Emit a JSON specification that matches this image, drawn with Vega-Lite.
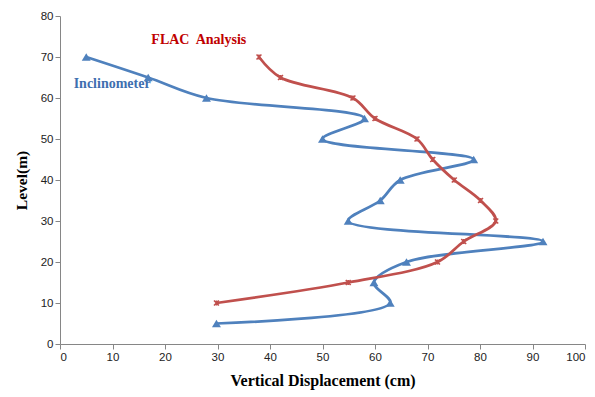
{
  "$schema": "https://vega.github.io/schema/vega-lite/v6.json",
  "width": 525,
  "height": 328,
  "autosize": {"type": "none"},
  "padding": {"left": 60, "top": 16, "right": 5, "bottom": 47},
  "background": "white",
  "config": {
    "view": {"stroke": null},
    "axis": {
      "grid": false,
      "domainColor": "#868686",
      "tickColor": "#868686",
      "tickSize": 5,
      "labelFont": "Liberation Sans",
      "labelFontSize": 11.5,
      "labelColor": "#222222",
      "titleFont": "Liberation Serif",
      "titleFontWeight": "bold",
      "titleColor": "#000000"
    }
  },
  "datasets": {
    "series": [
      {"series": "Inclinometer", "ord": 1, "disp": 5.0, "level": 70},
      {"series": "Inclinometer", "ord": 2, "disp": 16.8, "level": 65},
      {"series": "Inclinometer", "ord": 3, "disp": 27.9, "level": 60},
      {"series": "Inclinometer", "ord": 4, "disp": 58.0, "level": 55},
      {"series": "Inclinometer", "ord": 5, "disp": 50.0, "level": 50},
      {"series": "Inclinometer", "ord": 6, "disp": 78.8, "level": 45},
      {"series": "Inclinometer", "ord": 7, "disp": 64.8, "level": 40},
      {"series": "Inclinometer", "ord": 8, "disp": 61.0, "level": 35},
      {"series": "Inclinometer", "ord": 9, "disp": 54.9, "level": 30},
      {"series": "Inclinometer", "ord": 10, "disp": 92.0, "level": 25},
      {"series": "Inclinometer", "ord": 11, "disp": 66.0, "level": 20},
      {"series": "Inclinometer", "ord": 12, "disp": 59.8, "level": 15},
      {"series": "Inclinometer", "ord": 13, "disp": 62.9, "level": 10},
      {"series": "Inclinometer", "ord": 14, "disp": 29.8, "level": 5},
      {"series": "FLAC Analysis", "ord": 1, "disp": 37.9, "level": 70},
      {"series": "FLAC Analysis", "ord": 2, "disp": 42.0, "level": 65},
      {"series": "FLAC Analysis", "ord": 3, "disp": 55.8, "level": 60},
      {"series": "FLAC Analysis", "ord": 4, "disp": 60.0, "level": 55},
      {"series": "FLAC Analysis", "ord": 5, "disp": 68.0, "level": 50},
      {"series": "FLAC Analysis", "ord": 6, "disp": 71.0, "level": 45},
      {"series": "FLAC Analysis", "ord": 7, "disp": 75.1, "level": 40},
      {"series": "FLAC Analysis", "ord": 8, "disp": 80.1, "level": 35},
      {"series": "FLAC Analysis", "ord": 9, "disp": 83.0, "level": 30},
      {"series": "FLAC Analysis", "ord": 10, "disp": 76.9, "level": 25},
      {"series": "FLAC Analysis", "ord": 11, "disp": 71.9, "level": 20},
      {"series": "FLAC Analysis", "ord": 12, "disp": 54.9, "level": 15},
      {"series": "FLAC Analysis", "ord": 13, "disp": 29.8, "level": 10}
    ],
    "labels": [
      {"label": "FLAC\u00a0 Analysis", "disp": 17.4, "level": 74.2, "series": "FLAC Analysis"},
      {"label": "Inclinometer", "disp": 2.6, "level": 63.5, "series": "Inclinometer"}
    ]
  },
  "layer": [
    {
      "data": {"name": "series"},
      "mark": {"type": "line", "interpolate": "catmull-rom", "strokeWidth": 2.75},
      "encoding": {
        "x": {"field": "disp", "type": "quantitative", "scale": {"domain": [0, 100]}, "axis": {"values": [0,10,20,30,40,50,60,70,80,90,100], "title": "Vertical Displacement (cm)", "titleFontSize": 16, "titlePadding": 10}},
        "y": {"field": "level", "type": "quantitative", "scale": {"domain": [0, 80]}, "axis": {"values": [0,10,20,30,40,50,60,70,80], "title": "Level(m)", "titleFontSize": 15.5, "titlePadding": 11}},
        "order": {"field": "ord"},
        "color": {"field": "series", "type": "nominal", "scale": {"domain": ["Inclinometer", "FLAC Analysis"], "range": ["#4F81BD", "#C0504D"]}, "legend": null}
      }
    },
    {
      "data": {"name": "series"},
      "transform": [{"filter": "datum.series === 'Inclinometer'"}],
      "mark": {"type": "point", "shape": "triangle-up", "filled": true, "size": 80, "color": "#4F81BD", "opacity": 1},
      "encoding": {
        "x": {"field": "disp", "type": "quantitative"},
        "y": {"field": "level", "type": "quantitative"}
      }
    },
    {
      "data": {"name": "series"},
      "transform": [{"filter": "datum.series === 'FLAC Analysis'"}],
      "mark": {"type": "point", "shape": "M-1,-1L1,1M-1,1L1,-1M0,-1L0,1", "filled": false, "size": 24, "strokeWidth": 1.6, "color": "#C0504D", "opacity": 1},
      "encoding": {
        "x": {"field": "disp", "type": "quantitative"},
        "y": {"field": "level", "type": "quantitative"}
      }
    },
    {
      "data": {"name": "labels"},
      "mark": {"type": "text", "align": "left", "baseline": "middle", "font": "Liberation Serif", "fontSize": 14, "fontWeight": "bold"},
      "encoding": {
        "x": {"field": "disp", "type": "quantitative"},
        "y": {"field": "level", "type": "quantitative"},
        "text": {"field": "label"},
        "color": {"field": "series", "type": "nominal", "scale": {"domain": ["Inclinometer", "FLAC Analysis"], "range": ["#3F6FAF", "#C00000"]}, "legend": null}
      }
    }
  ],
  "resolve": {"scale": {"color": "independent"}}
}
